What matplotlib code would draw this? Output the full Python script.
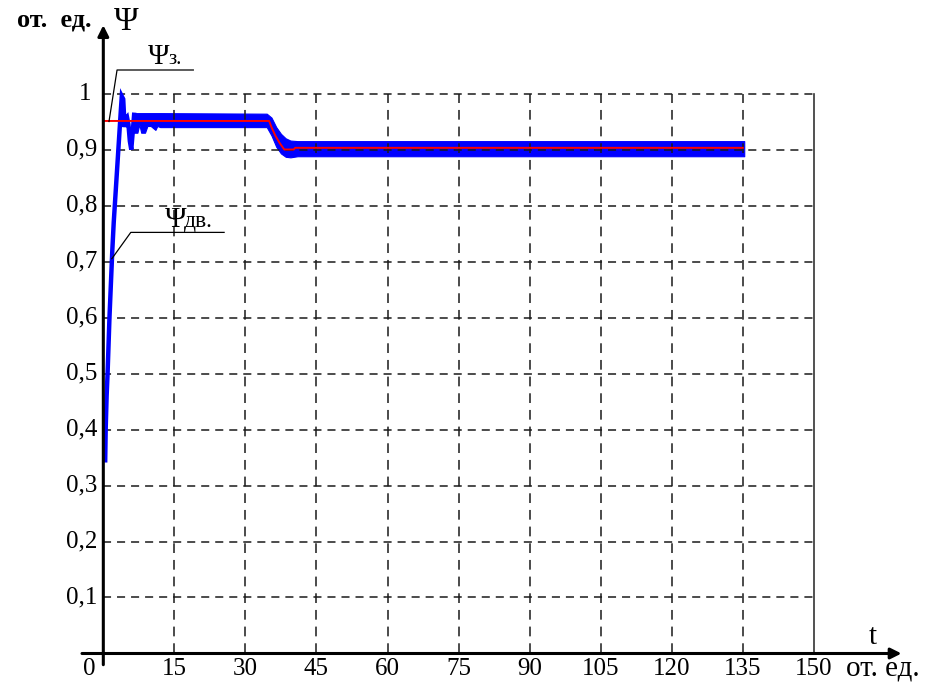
import matplotlib.pyplot as plt
import numpy as np

plt.rcParams['font.family'] = ['Liberation Serif', 'DejaVu Serif']
plt.rcParams['lines.scale_dashes'] = False

# axis ticks and labels
t_ticks = [0, 15, 30, 45, 60, 75, 90, 105, 120, 135, 150]
t_labels = ['0', '15', '30', '45', '60', '75', '90', '105', '120', '135', '150']
v_ticks = [0.1, 0.2, 0.3, 0.4, 0.5, 0.6, 0.7, 0.8, 0.9, 1.0]
v_labels = ['0,1', '0,2', '0,3', '0,4', '0,5', '0,6', '0,7', '0,8', '0,9', '1']

# psi_dv: start-up transient (blue)
dv_t = [0.4, 0.5, 0.7, 0.9, 1.1, 1.3, 1.5, 1.7, 1.9, 2.2, 2.5, 2.8, 3.1, 3.4,
        3.7, 3.9, 4.2, 4.5, 4.7, 5.0, 5.3, 5.6, 5.9, 6.2, 6.5]
dv_v = [0.345, 0.40, 0.46, 0.50, 0.55, 0.60, 0.64, 0.68, 0.72, 0.77, 0.81, 0.85,
        0.89, 0.93, 0.97, 0.995, 0.99, 0.94, 0.955, 0.958, 0.945, 0.915, 0.90,
        0.93, 0.962]

# psi_dv: oscillation band after start-up (blue)
band_t = [6.3, 7.2, 7.6, 8.0, 8.8, 9.3, 10.0, 11.0, 11.4, 12.0, 34.5, 35.5,
          36.5, 37.5, 38.5, 39.5, 41.0, 135.3]
band_hi = [0.965, 0.965, 0.965, 0.965, 0.965, 0.965, 0.965, 0.965, 0.965, 0.965,
           0.964, 0.957, 0.940, 0.928, 0.920, 0.916, 0.915, 0.915]
band_lo = [0.930, 0.930, 0.945, 0.930, 0.930, 0.942, 0.942, 0.935, 0.942, 0.940,
           0.940, 0.925, 0.905, 0.893, 0.887, 0.886, 0.888, 0.888]

# psi_z: reference (red)
z_t = [0, 35, 35.5, 36.3, 37.2, 38.2, 40.2, 40.5, 135]
z_v = [0.951, 0.951, 0.940, 0.925, 0.912, 0.900, 0.900, 0.903, 0.903]

fig = plt.figure(figsize=(9.31, 6.82), dpi=100)
ax = fig.add_axes([0, 0, 1, 1])
ax.set_xlim(-21.81, 174.73)
ax.set_ylim(-0.0509, 1.167)
ax.axis('off')

# grid
for v in v_ticks:
    ax.plot([0, 150], [v, v], color='#1a1a1a', lw=1.1, ls=(0, (5.8, 4.3)))
for t in t_ticks[1:-1]:
    ax.plot([t, t], [0, 1], color='#1a1a1a', lw=1.1, ls=(0, (7, 5)))
ax.plot([150, 150], [0, 1], color='#333333', lw=1.2)

# axes with arrows
ax.annotate('', xy=(0, 1.122), xytext=(0, -0.02),
            arrowprops=dict(arrowstyle='-|>', lw=2.2, color='k', mutation_scale=16,
                            shrinkA=0, shrinkB=0))
ax.annotate('', xy=(168.5, 0), xytext=(-4.5, 0),
            arrowprops=dict(arrowstyle='-|>', lw=2.2, color='k', mutation_scale=16,
                            shrinkA=0, shrinkB=0))

# tick labels
for t, lab in zip(t_ticks, t_labels):
    x = t if t > 0 else -3.0
    ax.text(x, -0.027, lab, ha='center', va='center', fontsize=18)
for v, lab in zip(v_ticks, v_labels):
    if lab == '1':
        ax.text(-3.9, v, lab, ha='center', va='center', fontsize=18)
    else:
        ax.text(-1.3, v, lab, ha='right', va='center', fontsize=18)

# curves
ax.fill_between(band_t, band_lo, band_hi, color='#0000ff', lw=0.8, edgecolor='#0000ff')
ax.plot(dv_t, dv_v, color='#0000ff', lw=3.2, solid_joinstyle='miter')
ax.plot(z_t, z_v, color='#ff0000', lw=1.4)

# axis captions
ax.text(-2.4, 1.131, 'от.  ед.', ha='right', va='center', fontsize=19, fontweight='bold')
ax.text(4.8, 1.128, 'Ψ', ha='center', va='center', fontsize=24)
ax.text(162.4, 0.030, 't', ha='center', va='center', fontsize=21)
ax.text(156.8, -0.027, 'от. ед.', ha='left', va='center', fontsize=21)

# curve callouts
ax.plot([1.2, 2.9, 19.0], [0.95, 1.042, 1.042], color='k', lw=0.9)
ax.text(9.4, 1.053, 'Ψ', ha='left', va='baseline', fontsize=21)
ax.text(13.8, 1.053, 'з.', ha='left', va='baseline', fontsize=15)
ax.plot([1.8, 5.8, 25.5], [0.705, 0.752, 0.752], color='k', lw=0.9)
ax.text(12.9, 0.762, 'Ψ', ha='left', va='baseline', fontsize=21)
ax.text(17.1, 0.762, 'дв.', ha='left', va='baseline', fontsize=17)

fig.savefig('out.png', dpi=100)
